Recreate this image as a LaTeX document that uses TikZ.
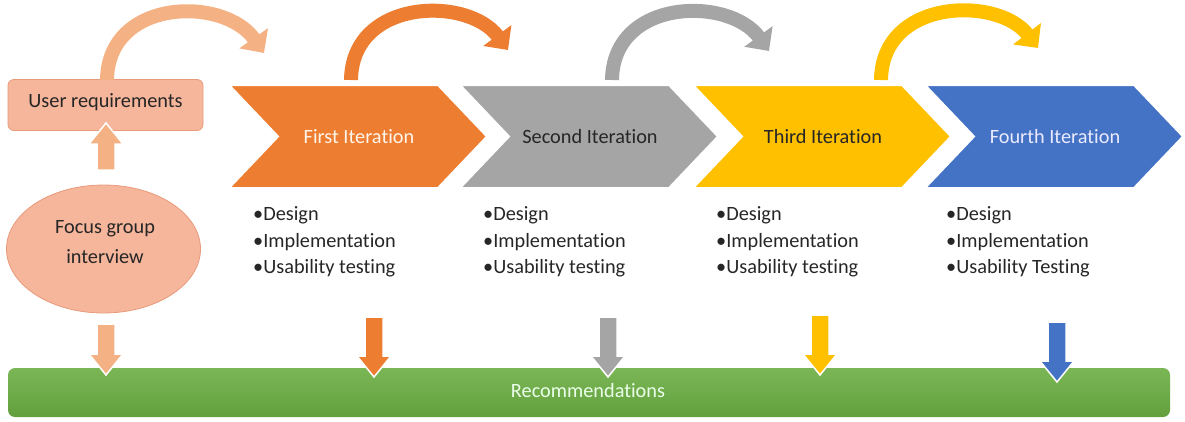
\documentclass[tikz,border=0pt]{standalone}
\usepackage{fontspec}
\setmainfont[Ligatures={NoCommon}]{Carlito}
\usetikzlibrary{shapes.geometric,arrows.meta,calc}
\definecolor{peach}{HTML}{F4B183}
\definecolor{salmon}{HTML}{F5B69C}
\definecolor{salmonline}{HTML}{E99A7A}
\definecolor{c1}{HTML}{ED7D31}
\definecolor{c2}{HTML}{A5A5A5}
\definecolor{c3}{HTML}{FFC000}
\definecolor{c4}{HTML}{4472C4}
\definecolor{greentop}{HTML}{7BB655}
\definecolor{greenbot}{HTML}{62A03D}
\definecolor{txt}{HTML}{262626}
\tikzset{
  title/.style={font=\fontsize{20.3}{22}\selectfont, inner sep=0pt},
  plain/.style={font=\fontsize{20.3}{22}\selectfont, text=txt, inner sep=0pt},
  bullets/.style={font=\fontsize{20.3}{26.5}\selectfont, text=txt, align=left, anchor=west, inner sep=0pt},
  chevbox/.style={draw=white, line width=2pt},
  arcarrow/.style={line width=14pt, -{Triangle[width=34pt,length=18pt]}},
  blockarrow/.style={draw=white, line width=1.5pt},
}
\newcommand{\chevron}[5]{%
  \path[chevbox, fill=#2] (#1,85) -- ++(209,0) -- ++(49,51.5) -- ++(-49,51.5) -- ++(-209,0) -- ++(49,-51.5) -- cycle;
  \node[title, text=#5] (#3) at ({#1+130},137) {#4};}
\newcommand{\dnarrow}[4]{% x, top y, tip y, colour
  \path[blockarrow, fill=#4] ({#1-9},#2) -- ({#1+9},#2) -- ({#1+9},{#3-21}) -- ({#1+17},{#3-21}) -- (#1,#3) -- ({#1-17},{#3-21}) -- ({#1-9},{#3-21}) -- cycle;}
\begin{document}
\begin{tikzpicture}[x=1pt,y=-1pt]
\useasboundingbox (0,0) rectangle (1185,421);

% recommendations bar
\node[draw=none, rounded corners=7pt, minimum width=1162pt, minimum height=49pt, top color=greentop, bottom color=greenbot, inner sep=0pt] (rec) at (589,392.5) {};
\node[title, text=white!92!green] (rectext) at (588,391) {Recommendations};

% left column
\node[draw=salmonline, fill=salmon, rounded corners=6pt, minimum width=195pt, minimum height=51pt, line width=0.8pt] (req) at (105.5,105) {};
\node[plain] (reqtext) at (105.5,102) {User requirements};
\node[ellipse, draw=salmonline, fill=salmon, line width=0.8pt, minimum width=194pt, minimum height=128pt] (focus) at (103.5,249) {};
\node[plain, align=center, font=\fontsize{20.3}{30}\selectfont] (focustext) at (105,242) {Focus group\\interview};

% up arrow focus -> req
\coordinate (upb) at (106,170);
\coordinate (upt) at (106,123);
\path[blockarrow, fill=peach] ($(upb)+(-9,0)$) -- ($(upb)+(9,0)$) -- ($(upt)+(9,21)$) -- ($(upt)+(17,21)$) -- (upt) -- ($(upt)+(-17,21)$) -- ($(upt)+(-9,21)$) -- cycle;

% chevrons
\chevron{925}{c4}{it4}{Fourth Iteration}{white!92!blue}
\chevron{693}{c3}{it3}{Third Iteration}{txt}
\chevron{460}{c2}{it2}{Second Iteration}{txt}
\chevron{229}{c1}{it1}{First Iteration}{white!92!orange}

% curved arrows
\coordinate (a1) at (107,80);  \coordinate (e1) at (264,53);
\coordinate (a2) at (351,80);  \coordinate (e2) at (508,50);
\coordinate (a3) at (612,80);  \coordinate (e3) at (769,51);
\coordinate (a4) at (881,80);  \coordinate (e4) at (1038,48);
\draw[arcarrow, peach] (a1) .. controls ($(a1)+(1,-82)$) and ($(a1)+(117,-84)$) .. (e1);
\draw[arcarrow, c1] (a2) .. controls ($(a2)+(1,-82)$) and ($(a2)+(117,-84)$) .. (e2);
\draw[arcarrow, c2] (a3) .. controls ($(a3)+(1,-82)$) and ($(a3)+(117,-84)$) .. (e3);
\draw[arcarrow, c3] (a4) .. controls ($(a4)+(1,-82)$) and ($(a4)+(117,-84)$) .. (e4);

% bullet lists
\node[bullets] (l1) at (253,242) {•Design\\•Implementation\\•Usability testing};
\node[bullets] (l2) at (483,242) {•Design\\•Implementation\\•Usability testing};
\node[bullets] (l3) at (716,242) {•Design\\•Implementation\\•Usability testing};
\node[bullets] (l4) at (946,242) {•Design\\•Implementation\\•Usability Testing};

% down arrows
\dnarrow{106}{324}{375}{peach}
\dnarrow{374}{317}{377}{c1}
\dnarrow{608}{317}{377}{c2}
\dnarrow{820}{315}{375}{c3}
\dnarrow{1057}{322}{382}{c4}
\end{tikzpicture}
\end{document}
